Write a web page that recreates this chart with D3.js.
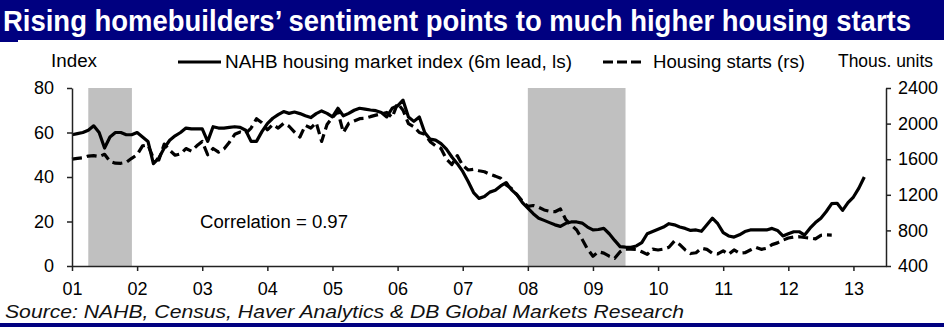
<!DOCTYPE html>
<html>
<head>
<meta charset="utf-8">
<script src="https://cdn.jsdelivr.net/npm/d3@7"></script>
<style>
  html, body { margin: 0; padding: 0; background: #fff; }
  svg { display: block; }
  text { font-family: "Liberation Sans", Arial, sans-serif; }
</style>
</head>
<body>
<svg id="chart" width="944" height="327"></svg>
<script>
// ---------------- DATA ----------------
const startYear = 2001; // first month: Jan 2001 (monthly series)

// NAHB housing market index, 6m lead (left scale), monthly from Jan 2001
const nahb = [
  59, 59.5, 60, 61, 63, 60, 53, 58, 60, 60, 59, 59,            // 2001
  60, 58, 56, 46, 48.5, 53, 56.5, 58.5, 60, 62, 61.6, 61.6,    // 2002
  61.6, 56, 62.6, 62, 62, 62.3, 62.6, 62.3, 61, 56, 56, 60.4,  // 2003
  64, 66.4, 68, 69.4, 68.6, 69.2, 68.5, 67.5, 66.7, 68.5, 69.7, 68.6, // 2004
  67, 70.9, 67.5, 68.6, 70, 70.9, 70.5, 70.1, 69.8, 69, 67, 70.9,     // 2005
  72, 74.5, 67, 65, 67, 60, 57, 56.6, 55, 52.5, 49, 46,         // 2006
  42.5, 38, 33, 30.4, 31.2, 33.2, 34, 36, 37.5, 34.2, 32, 28.5, // 2007
  26, 23.5, 21.5, 20.5, 19.5, 18.5, 17.8, 19.2, 19.8, 19.8, 19.3, 17.5, // 2008
  16.2, 16.4, 16.9, 14.5, 11.5, 8.7, 8.5, 8.4, 9, 10.5, 14.5, 15.5,     // 2009
  16.5, 17.5, 19, 18.5, 17.5, 16.9, 16, 16.2, 15.6, 18.5, 21.5, 19,     // 2010
  15, 13.5, 13, 14, 15.5, 16.2, 16.2, 16.2, 16.2, 16.9, 16, 13.5,       // 2011
  14.5, 15.4, 15.4, 13.9, 17, 19.5, 21.5, 24.5, 28, 28.2, 25, 28.5,     // 2012
  31, 35, 40                                                            // 2013
];

// Housing starts, thousand units (right scale), monthly from Jan 2001
const starts = [
  1600, 1610, 1617, 1635, 1640, 1630, 1655, 1575, 1555, 1554, 1565, 1610, // 2001
  1650, 1750, 1760, 1610, 1590, 1770, 1700, 1645, 1660, 1720, 1690, 1750, // 2002
  1800, 1650, 1720, 1680, 1715, 1790, 1880, 1905, 1890, 1950, 2055, 2010, // 2003
  1930, 1990, 1950, 2003, 1970, 1905, 1850, 1980, 1950, 2010, 1800, 1990, // 2004
  2070, 2134, 1900, 2003, 2030, 2055, 2059, 2078, 2095, 2110, 2125, 2070, // 2005
  2228, 2150, 2000, 1965, 1900, 1880, 1797, 1750, 1720, 1600, 1540, 1640, // 2006
  1530, 1479, 1487, 1470, 1459, 1430, 1410, 1385, 1310, 1270, 1200, 1130, // 2007
  1070, 1080, 1060, 1030, 1015, 1010, 1040, 920, 860, 805, 700, 590,      // 2008
  510, 560, 545, 510, 487, 560, 590, 590, 585, 560, 530, 590,             // 2009
  580, 590, 610, 680, 640, 580, 540, 549, 600, 587, 543, 535,             // 2010
  570, 530, 580, 545, 549, 580, 610, 587, 599, 640, 660, 690,             // 2011
  715, 725, 729, 720, 715, 705, 745, 750, 748                             // 2012
];

// Recession bands (decimal years)
const recessionStart = [2001.25, 2008.0];
const recessionEnd   = [2001.92, 2009.5];

// Axis ticks
const xTickYears = [2001,2002,2003,2004,2005,2006,2007,2008,2009,2010,2011,2012,2013];
const xTickLabels = ["01","02","03","04","05","06","07","08","09","10","11","12","13"];
const leftTicks = [0, 20, 40, 60, 80];
const rightTicks = [400, 800, 1200, 1600, 2000, 2400];

// Texts
const titleText = "Rising homebuilders\u2019 sentiment points to much higher housing starts";
const legendSolid = "NAHB housing market index (6m lead, ls)";
const legendDashed = "Housing starts (rs)";
const leftUnit = "Index";
const rightUnit = "Thous. units";
const corrText = "Correlation = 0.97";
const sourceText = "Source: NAHB, Census, Haver Analytics & DB Global Markets Research";

// ---------------- CHART ----------------
const svg = d3.select("#chart");
const navy = "#000080";

const x = d3.scaleLinear().domain([2001, 2013.5]).range([72, 886]);
const yL = d3.scaleLinear().domain([0, 80]).range([266, 88]);
const yR = d3.scaleLinear().domain([400, 2400]).range([266, 88]);

// Title bar
svg.append("rect").attr("x", 0).attr("y", 0).attr("width", 944).attr("height", 40).attr("fill", navy);
svg.append("rect").attr("x", 0).attr("y", 40).attr("width", 18).attr("height", 2).attr("fill", navy);
svg.append("text")
  .attr("transform", "translate(3,31) scale(1,1.2)")
  .attr("x", 0).attr("y", 0)
  .attr("fill", "#fff")
  .attr("font-weight", "bold")
  .attr("font-size", 24)
  .style("font-family", "'Liberation Sans Narrow','Arial Narrow','Liberation Sans',Arial,sans-serif")
  .attr("textLength", 908).attr("lengthAdjust", "spacingAndGlyphs")
  .text(titleText);

// Bottom bar
svg.append("rect").attr("x", 0).attr("y", 323).attr("width", 944).attr("height", 4).attr("fill", navy);

// Recession bands
svg.append("g").selectAll("rect")
  .data(recessionStart.map((s, i) => [s, recessionEnd[i]]))
  .join("rect")
  .attr("x", d => x(d[0]))
  .attr("width", d => x(d[1]) - x(d[0]))
  .attr("y", yL(80))
  .attr("height", yL(0) - yL(80))
  .attr("fill", "#c0c0c0");

// Lines
const toYear = i => startYear + i / 12;
const lineL = d3.line().x((d, i) => x(toYear(i))).y(d => yL(d));
const lineR = d3.line().x((d, i) => x(toYear(i))).y(d => yR(d));

svg.append("path")
  .datum(starts)
  .attr("d", lineR)
  .attr("fill", "none")
  .attr("stroke", "#000")
  .attr("stroke-width", 3.2)
  .attr("stroke-dasharray", "10,5")
  .attr("stroke-linejoin", "round");

svg.append("path")
  .datum(nahb)
  .attr("d", lineL)
  .attr("fill", "none")
  .attr("stroke", "#000")
  .attr("stroke-width", 3.2)
  .attr("stroke-linejoin", "round");

// Axes
const axisColor = "#222";
function styleAxis(g) {
  g.select(".domain").attr("stroke", axisColor).attr("stroke-width", 1.5);
  g.selectAll(".tick line").attr("stroke", axisColor).attr("stroke-width", 1.5);
  g.selectAll(".tick text").attr("fill", "#000").attr("font-size", 18)
    .style("font-family", "'Liberation Sans',Arial,sans-serif");
}

svg.append("g")
  .attr("transform", "translate(0,266)")
  .call(d3.axisBottom(x).tickValues(xTickYears)
    .tickFormat((d, i) => xTickLabels[i]).tickSize(5).tickSizeOuter(0).tickPadding(11))
  .call(styleAxis);

svg.append("g")
  .attr("transform", "translate(72,0)")
  .call(d3.axisLeft(yL).tickValues(leftTicks).tickFormat(d3.format("d"))
    .tickSize(5).tickSizeOuter(0).tickPadding(13))
  .call(styleAxis);

svg.append("g")
  .attr("transform", "translate(886,0)")
  .call(d3.axisRight(yR).tickValues(rightTicks).tickFormat(d3.format("d"))
    .tickSize(5).tickSizeOuter(0).tickPadding(7))
  .call(styleAxis);

// Unit labels & legend
const txt = (tx, ty, s, len, size) => {
  const t = svg.append("text").attr("x", tx).attr("y", ty)
    .attr("font-size", size || 18).attr("fill", "#000").text(s);
  if (len) t.attr("textLength", len).attr("lengthAdjust", "spacingAndGlyphs");
  return t;
};
txt(51, 67, leftUnit, 46);
txt(838, 67, rightUnit, 95);

svg.append("line").attr("x1", 178).attr("x2", 221).attr("y1", 62).attr("y2", 62)
  .attr("stroke", "#000").attr("stroke-width", 3);
txt(225, 68, legendSolid, 347);

svg.append("line").attr("x1", 603).attr("x2", 642).attr("y1", 62).attr("y2", 62)
  .attr("stroke", "#000").attr("stroke-width", 3).attr("stroke-dasharray", "10,4");
txt(653, 68, legendDashed, 152);

// Correlation annotation
txt(200, 228, corrText, 148);

// Source
svg.append("text").attr("x", 5).attr("y", 318)
  .attr("font-size", 19).attr("font-style", "italic").attr("fill", "#111")
  .attr("textLength", 679).attr("lengthAdjust", "spacingAndGlyphs")
  .text(sourceText);
</script>
</body>
</html>
